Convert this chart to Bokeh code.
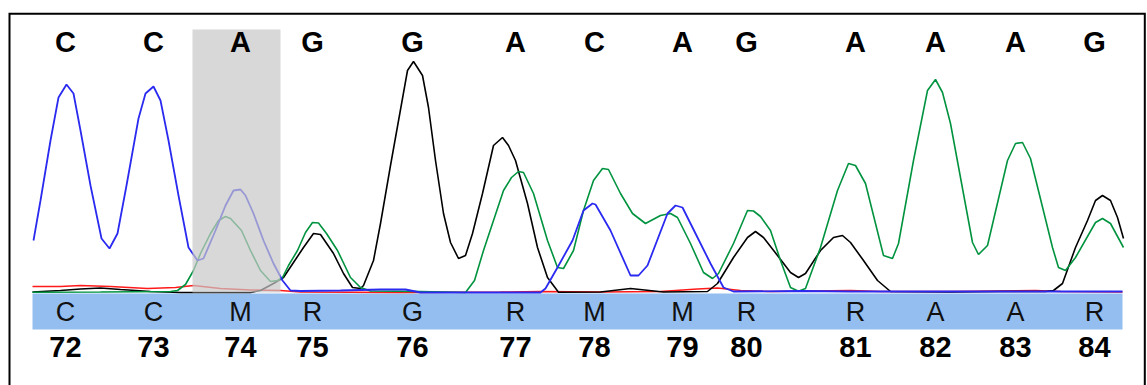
from bokeh.plotting import figure
from bokeh.models import Range1d
from bokeh.core.properties import value
from bokeh.embed import file_html
from bokeh.resources import INLINE

# ---- Data (scan position, signal) ----
trace_c_x = [1, 8, 18, 26, 34, 41, 48, 58, 69, 77, 85, 94, 106, 113, 121, 128, 136, 146, 156, 165, 171,
             183, 193, 201, 208, 213, 221, 231, 241, 250, 258, 268, 308, 348, 373, 388, 508, 513, 525, 540,
             551, 560, 563, 578, 598, 606, 615, 635, 643, 650, 665, 678, 691, 701, 768, 818, 968, 1090]
trace_c_y = [52, 92, 152, 195, 208, 199, 162, 107, 54, 44, 59, 107, 174, 199, 206, 192, 152, 97, 45, 32, 34,
             62, 87, 102, 103, 97, 79, 52, 29, 12, 2, 1.5, 2, 3, 3, 0, 0, 4, 25, 52,
             82, 89, 88, 62, 17, 17, 27, 79, 87, 85, 55, 29, 5, 1, 1.5, 1, 1, 1]

trace_a_x = [0, 68, 138, 145, 153, 161, 168, 178, 186, 193, 198, 209, 218, 228, 238, 245, 250, 256, 265, 273,
             280, 286, 294, 305, 318, 328, 338, 388, 433, 442, 451, 461, 471, 479, 486, 491, 501, 515, 525,
             531, 541, 551, 561, 570, 576, 588, 600, 613, 628, 638, 645, 658, 671, 680, 686, 701, 715, 721,
             728, 738, 748, 758, 766, 773, 788, 805, 816, 823, 833, 851, 860, 866, 881, 895, 903, 910, 918,
             940, 946, 955, 975, 983, 990, 998, 1020, 1026, 1033, 1043, 1063, 1070, 1078, 1091]
trace_a_y = [0.3, 0.5, 1, 2, 8, 22, 39, 59, 72, 76, 74, 62, 42, 22, 11, 12, 15, 27, 42, 60,
             70, 69.5, 59, 42, 15, 5, 1.5, 1, 0, 12, 42, 72, 102, 115, 121, 120, 99, 52, 25,
             24, 42, 82, 112, 124, 123, 99, 79, 69, 77, 79, 75, 49, 20, 14, 19, 49, 82, 81.5,
             76, 62, 32, 5, 1.3, 4, 45, 102, 129, 127, 109, 37, 34, 49, 132, 202, 213, 200, 169,
             50, 38, 47, 132, 149, 150, 134, 45, 25, 22, 35, 70, 74, 69, 45]

trace_g_x = [0, 28, 48, 68, 88, 118, 148, 218, 228, 241, 251, 261, 271, 281, 288, 301, 311, 320, 328, 331,
             341, 348, 358, 375, 381, 390, 396, 403, 411, 418, 426, 433, 440, 450, 461, 470, 476, 483, 495,
             505, 515, 526, 568, 598, 631, 675, 685, 701, 715, 723, 731, 745, 758, 766, 773, 788, 801, 810,
             818, 831, 845, 858, 918, 968, 1013, 1021, 1030, 1043, 1055, 1063, 1070, 1078, 1085, 1091]
trace_g_y = [0.5, 2, 3.5, 4.5, 3, 1, 0, 0, 2, 9, 15, 30, 45, 59, 58, 39, 19, 5, 4, 7,
             32, 69, 127, 222, 231, 217, 185, 132, 79, 50, 34, 37, 59, 99, 147, 155, 147, 132, 89,
             45, 15, 0.3, 0.5, 4, 0.5, 1, 9, 35, 55, 61, 55, 37, 20, 15, 19, 42, 55, 57,
             50, 32, 12, 1, 0.5, 1, 1, 2, 9, 45, 72, 92, 97, 92, 75, 54]

trace_t_x = [0, 28, 48, 78, 115, 143, 161, 188, 218, 248, 268, 368, 468, 508, 568, 628, 665, 685, 708, 738,
             818, 848, 918, 1003, 1028, 1090]
trace_t_y = [6, 6, 7, 6, 4, 5, 7, 4, 2.5, 2, 0.5, 0, 0.5, 1, 0.5, 1, 3.5, 4.5, 2, 1,
             2, 1, 1, 2, 1, 0.5]

call_pos = [33, 121, 208, 280, 380, 483, 562, 650, 714, 823, 903, 983, 1062]
top_calls = ["C", "C", "A", "G", "G", "A", "C", "A", "G", "A", "A", "A", "G"]
iupac_calls = ["C", "C", "M", "R", "G", "R", "M", "M", "R", "R", "A", "A", "R"]
base_numbers = ["72", "73", "74", "75", "76", "77", "78", "79", "80", "81", "82", "83", "84"]

highlight_left, highlight_right = 160, 248
scan_start, scan_end = 0, 1090

# ---- Figure ----
p = figure(width=1147, height=385, x_range=Range1d(-32, 1115), y_range=Range1d(-93, 292),
           output_backend="svg", toolbar_location=None, min_border=0,
           x_axis_type=None, y_axis_type=None, outline_line_color=None)
p.grid.visible = False
p.background_fill_color = "white"
p.border_fill_color = "white"

# blue call band
p.quad(left=scan_start, right=scan_end, top=-1, bottom=-37, fill_color="#94BEF0", line_color=None)

# traces
p.line(trace_t_x, trace_t_y, line_color="#FF1A1A", line_width=1.5)
p.line(trace_g_x, trace_g_y, line_color="#000000", line_width=1.6)
p.line(trace_a_x, trace_a_y, line_color="#00933F", line_width=1.6)
p.line(trace_c_x, trace_c_y, line_color="#2A2AF0", line_width=1.8)

# highlighted base (drawn over traces so they look faded)
p.quad(left=highlight_left, right=highlight_right, top=263, bottom=0,
       fill_color="#C8C8C8", fill_alpha=0.7, line_color=None)

font = value("Liberation Sans")
p.text(x=call_pos, y=[251] * len(call_pos), text=top_calls, text_font=font,
       text_font_style="bold", text_font_size="29px", text_align="center",
       text_baseline="middle", text_color="black")
p.text(x=call_pos, y=[-19] * len(call_pos), text=iupac_calls, text_font=font,
       text_font_style="normal", text_font_size="27px", text_align="center",
       text_baseline="middle", text_color="#111111")
p.text(x=call_pos, y=[-54] * len(call_pos), text=base_numbers, text_font=font,
       text_font_style="bold", text_font_size="29px", text_align="center",
       text_baseline="middle", text_color="black")

# open frame: left, top and right sides only
frame_left, frame_right, frame_top, frame_bottom = -23, 1112.3, 278.7, -93
p.line([frame_left, frame_left, frame_right, frame_right],
       [frame_bottom, frame_top, frame_top, frame_bottom],
       line_color="black", line_width=2, line_join="miter")

open("out.html", "w").write(file_html(p, INLINE))
